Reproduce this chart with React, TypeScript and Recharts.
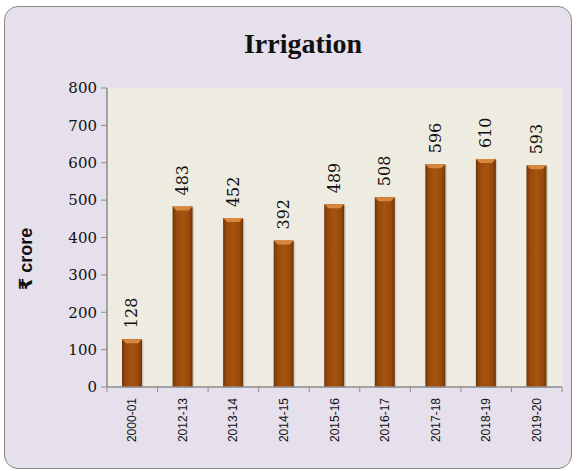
import React from 'react'
import { BarChart, Bar, XAxis, YAxis, CartesianGrid, LabelList, Label } from 'recharts'

const years = ['2000-01', '2012-13', '2013-14', '2014-15', '2015-16', '2016-17', '2017-18', '2018-19', '2019-20']
const spend = [128, 483, 452, 392, 489, 508, 596, 610, 593]
const yTicks = [0, 100, 200, 300, 400, 500, 600, 700, 800]

const data = years.map((year, i) => ({ year, value: spend[i] }))

const serif = '"DejaVu Serif", serif'
const sans = '"Liberation Sans", "DejaVu Sans", sans-serif'

function BevelBar(props: any) {
  const { x, y, width, height } = props
  if (!height || height <= 0) return null
  const b = 4
  return (
    <g>
      <rect x={x + 1.5} y={y + 1} width={width} height={height} fill="#00000022" />
      <rect x={x} y={y} width={width} height={height} fill="url(#barGrad)" />
      <polygon
        points={`${x},${y} ${x + width},${y} ${x + width - b},${y + b} ${x + b},${y + b}`}
        fill="#d9863f"
      />
    </g>
  )
}

function XTick(props: any) {
  const { x, y, payload, index } = props
  const half = 455 / years.length / 2
  return (
    <g>
      <line x1={x - half} y1={y - 8} x2={x - half} y2={y - 3} stroke="#8c8c8c" />
      {index === years.length - 1 && (
        <line x1={x + half} y1={y - 8} x2={x + half} y2={y - 3} stroke="#8c8c8c" />
      )}
      <text
        x={x}
        y={y + 3}
        transform={`rotate(-90, ${x}, ${y + 3})`}
        textAnchor="end"
        dominantBaseline="central"
        fontFamily={sans}
        fontSize={12}
        fill="#111"
      >
        {payload.value}
      </text>
    </g>
  )
}

function ValueLabel(props: any) {
  const { x, y, width, value } = props
  const cx = x + width / 2
  const cy = y - 11
  return (
    <text
      x={cx}
      y={cy}
      transform={`rotate(-90, ${cx}, ${cy})`}
      textAnchor="start"
      dominantBaseline="central"
      fontFamily={serif}
      fontSize={16}
      fill="#111"
    >
      {value}
    </text>
  )
}

function YTitle() {
  return (
    <text
      x={26}
      y={259}
      transform="rotate(-90, 26, 259)"
      textAnchor="middle"
      dominantBaseline="central"
      fontFamily={sans}
      fontWeight="bold"
      fontSize={18}
      fill="#111"
    >
      ₹ crore
    </text>
  )
}

export default function App() {
  return (
    <div style={{ position: 'absolute', left: 0, top: 0, width: 577, height: 475 }}>
      <div
        style={{
          position: 'absolute',
          left: 4,
          top: 6,
          width: 566,
          height: 461,
          border: '1.5px solid #8a8a8a',
          borderRadius: 14,
          background: '#e6e0ec',
        }}
      />
      <div
        style={{
          position: 'absolute',
          left: 203,
          top: 26,
          width: 200,
          textAlign: 'center',
          fontFamily: '"Liberation Serif", serif',
          fontWeight: 'bold',
          fontSize: 28,
          lineHeight: '36px',
          color: '#111',
        }}
      >
        Irrigation
      </div>
      <div style={{ position: 'absolute', left: 0, top: 0 }}>
        <BarChart width={577} height={475} data={data} margin={{ top: 88, right: 15, bottom: 8, left: 0 }} barSize={20}>
          <defs>
            <linearGradient id="barGrad" x1="0" y1="0" x2="1" y2="0">
              <stop offset="0%" stopColor="#6e3308" />
              <stop offset="18%" stopColor="#98490c" />
              <stop offset="50%" stopColor="#a6530f" />
              <stop offset="82%" stopColor="#98490c" />
              <stop offset="100%" stopColor="#6e3308" />
            </linearGradient>
          </defs>
          <CartesianGrid horizontal={false} vertical={false} fill="#eeece1" stroke="none" />
          <XAxis
            dataKey="year"
            height={80}
            tick={<XTick />}
            tickLine={false}
            axisLine={{ stroke: '#8c8c8c', strokeWidth: 1.5 }}
            interval={0}
          />
          <YAxis
            width={107}
            domain={[0, 800]}
            ticks={yTicks}
            interval={0}
            tickSize={6}
            tickLine={{ stroke: '#8c8c8c' }}
            axisLine={{ stroke: '#8c8c8c', strokeWidth: 1.5 }}
            tick={{ fontFamily: serif, fontSize: 15, fill: '#111' }}
            tickMargin={4}
          >
            <Label content={<YTitle />} />
          </YAxis>
          <Bar dataKey="value" shape={<BevelBar />} isAnimationActive={false}>
            <LabelList dataKey="value" content={<ValueLabel />} />
          </Bar>
        </BarChart>
      </div>
    </div>
  )
}
